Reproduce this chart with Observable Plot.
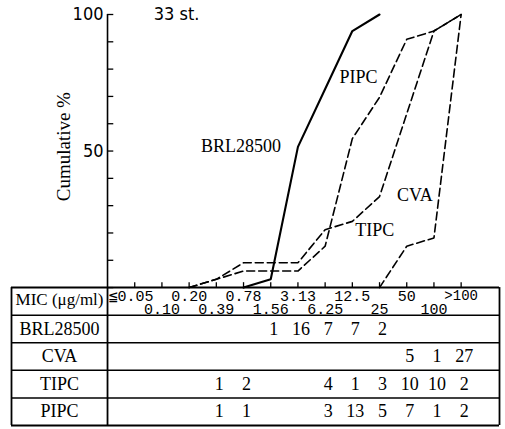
<!DOCTYPE html>
<html>
<head>
<meta charset="utf-8">
<script src="https://cdn.jsdelivr.net/npm/d3@7"></script>
<script src="https://cdn.jsdelivr.net/npm/@observablehq/plot@0.6"></script>
<style>
  html, body { margin: 0; padding: 0; background: #fff; }
  #chart svg { display: block; }
</style>
</head>
<body>
<div id="chart"></div>
<script>
// ---- data ----
const micLabels = ["≦0.05", "0.10", "0.20", "0.39", "0.78", "1.56", "3.13", "6.25", "12.5", "25", "50", "100", ">100"];
const drugs = ["BRL28500", "CVA", "TIPC", "PIPC"];
const countsBRL  = [0, 0, 0, 0, 0, 1, 16, 7, 7, 2, 0, 0, 0];
const countsCVA  = [0, 0, 0, 0, 0, 0, 0, 0, 0, 0, 5, 1, 27];
const countsTIPC = [0, 0, 0, 1, 2, 0, 0, 4, 1, 3, 10, 10, 2];
const countsPIPC = [0, 0, 0, 1, 1, 0, 0, 3, 13, 5, 7, 1, 2];
const yTicks = [0, 10, 20, 30, 40, 50, 60, 70, 80, 90, 100];
const yTickLabels = [100, 50];
const strainLabel = "33 st.";
const yTitle = "Cumulative %";
const micTitle = "MIC (μg/ml)";
// curve labels: [text, MIC index position, cumulative %]
const curveLabels = [
  ["BRL28500", 3.91, 51.6],
  ["PIPC", 8.23, 76.9],
  ["CVA", 10.3, 33.7],
  ["TIPC", 8.82, 20.9]
];

// ---- derived ----
const countsByDrug = [countsBRL, countsCVA, countsTIPC, countsPIPC];
const dashed = [false, true, true, true];
const total = d3.sum(countsBRL);

function cumulative(counts) {
  let s = 0;
  const cum = counts.map(c => (s += c) / total * 100);
  const first = counts.findIndex(c => c > 0);
  const last = cum.findIndex(v => v >= 100 - 1e-9);
  return d3.range(first - 1, last + 1).map(i => ({i, v: cum[i]}));
}

// layout (in scale units)
const axisX = -1;
const tableLeft = -4.53, tableRight = 13.41;
const rowH = 10.1;
const nRows = drugs.length + 1;
const rowBounds = d3.range(nRows + 1).map(k => -k * rowH);
const labelColX = (tableLeft + axisX) / 2;
const lastCol = micLabels.length - 1;

const serif = "'Liberation Serif', 'Times New Roman', serif";
const sansN = "'Liberation Sans Narrow', 'DejaVu Sans Condensed', 'Liberation Sans', sans-serif";
const mono = "'Liberation Mono', 'DejaVu Sans Mono', monospace";

const marks = [];

// curves
countsByDrug.forEach((counts, k) => {
  marks.push(Plot.line(cumulative(counts), {
    x: "i", y: "v", stroke: "#000",
    strokeWidth: dashed[k] ? 1.6 : 2.1,
    strokeDasharray: dashed[k] ? "8,4" : null,
    strokeLinejoin: "miter"
  }));
});

// y axis
marks.push(Plot.ruleX([axisX], {y1: 0, y2: 100, stroke: "#000", strokeWidth: 1.6}));
marks.push(Plot.ruleY(yTicks, {y: d => d, x1: axisX, x2: axisX + 0.23, stroke: "#000", strokeWidth: 1.3}));
marks.push(Plot.text(yTickLabels, {
  x: axisX, y: d => d, text: d => String(d), dx: -4, textAnchor: "end",
  fontFamily: sansN, fontSize: 18, fill: "#000"
}));
// x ticks
marks.push(Plot.ruleX(micLabels.map((_, i) => i), {x: d => d, y1: 0, y2: 1.8, stroke: "#000", strokeWidth: 1.3}));

// titles
marks.push(Plot.text([strainLabel], {
  x: 1.43, y: 100, text: d => d, dx: 3, fontFamily: sansN, fontSize: 18, fill: "#000",
  ariaLabel: "ls-strain"
}));
marks.push(Plot.text([yTitle], {
  x: -2.62, y: 51.6, text: d => d, rotate: -90, fontFamily: serif, fontSize: 19, fill: "#000",
  ariaLabel: "ls-ytitle"
}));
marks.push(Plot.text(curveLabels, {
  x: d => d[1], y: d => d[2], text: d => d[0], fontFamily: serif, fontSize: 18, fill: "#000",
  ariaLabel: "ls-curve"
}));

// table grid
marks.push(Plot.ruleY(rowBounds, {y: d => d, x1: tableLeft, x2: tableRight, stroke: "#000",
  strokeWidth: d => (d === 0 || d === rowBounds[nRows]) ? 2 : 1.5}));
marks.push(Plot.ruleX([tableLeft, axisX, tableRight], {x: d => d, y1: 0, y2: rowBounds[nRows],
  stroke: "#000", strokeWidth: 1.8}));

// MIC header row
marks.push(Plot.text([micTitle], {
  x: labelColX, y: -rowH * 0.42, text: d => d, fontFamily: serif, fontSize: 17, fill: "#000",
  ariaLabel: "ls-mic"
}));
const micData = micLabels.map((l, i) => ({l, i}));
const micTop = -rowH * 0.3, micBottom = -rowH * 0.79;
marks.push(Plot.text(micData.filter(d => d.i > 0 && d.i < lastCol), {
  x: "i", y: d => d.i % 2 === 0 ? micTop : micBottom, text: "l",
  fontFamily: mono, fontSize: 15, fill: "#000"
}));
marks.push(Plot.text(micData.filter(d => d.i === 0), {
  x: axisX, y: micTop, text: "l", textAnchor: "start", dx: 1,
  fontFamily: mono, fontSize: 15, fill: "#000"
}));
marks.push(Plot.text(micData.filter(d => d.i === lastCol), {
  x: "i", y: micTop, text: "l", dx: 0,
  fontFamily: mono, fontSize: 14, fill: "#000"
}));

// drug rows
marks.push(Plot.text(drugs.map((d, r) => ({d, r})), {
  x: labelColX, y: d => -(d.r + 1.5) * rowH, text: "d", fontFamily: serif, fontSize: 18, fill: "#000",
  ariaLabel: "ls-rows"
}));
const cells = [];
countsByDrug.forEach((counts, r) => counts.forEach((c, i) => { if (c > 0) cells.push({r, i, c}); }));
marks.push(Plot.text(cells, {
  x: "i", y: d => -(d.r + 1.5) * rowH, text: d => String(d.c), dx: 3,
  fontFamily: serif, fontSize: 18, fill: "#000"
}));

const chart = Plot.plot({
  width: 505, height: 429, margin: 0,
  x: {type: "linear", domain: [tableLeft, tableRight], range: [11, 499], axis: null},
  y: {type: "linear", domain: [rowBounds[nRows], 100], range: [425, 14], axis: null},
  style: {background: "#fff", color: "#000"},
  marks
});
const svg = d3.select(chart);
svg.selectAll('g[aria-label="ls-strain"] text').style("letter-spacing", "1.5px");
svg.selectAll('g[aria-label="ls-ytitle"] text').style("letter-spacing", "2px");
svg.selectAll('g[aria-label="ls-curve"] text').style("letter-spacing", "1.2px");
svg.selectAll('g[aria-label="ls-mic"] text').style("letter-spacing", "0.3px");
svg.selectAll('g[aria-label="ls-rows"] text').style("letter-spacing", "1.2px");
document.getElementById("chart").appendChild(chart);
</script>
</body>
</html>
